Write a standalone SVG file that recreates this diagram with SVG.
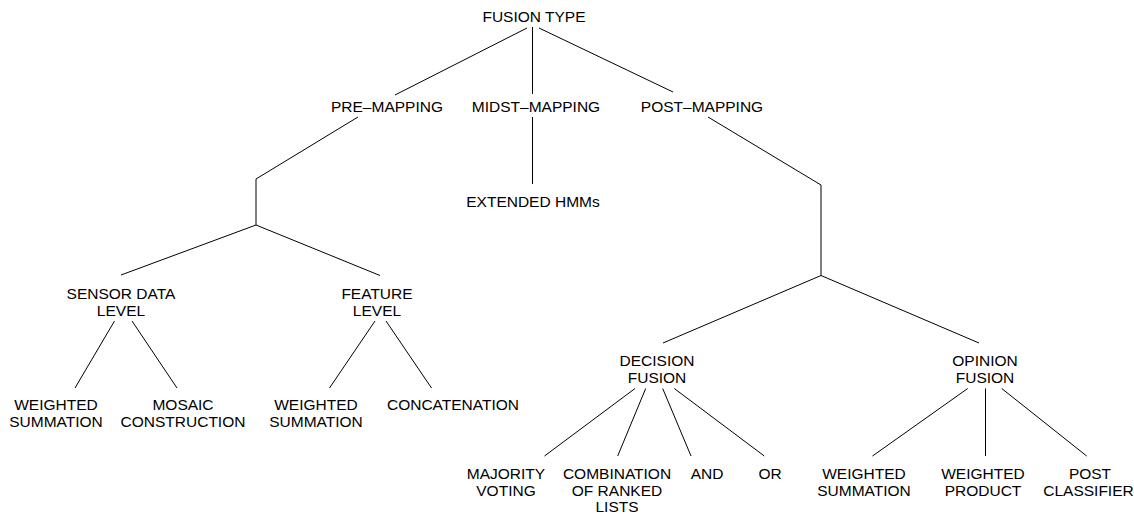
<svg xmlns="http://www.w3.org/2000/svg" width="1134" height="515" viewBox="0 0 1134 515">
<style>
text{font-family:"Liberation Sans",Arial,sans-serif;font-size:15.5px;fill:#000;text-anchor:middle}
.c{fill:none;stroke:#000;stroke-width:1}
</style>
<rect width="1134" height="515" fill="#fff"/>
<g id="connectors">
<path class="c" d="M527,28L395,95"/>
<path class="c" d="M532.5,27V94"/>
<path class="c" d="M539,28L673,92"/>
<path class="c" d="M358,117L256,179V225"/>
<path class="c" d="M256,225L121,275"/>
<path class="c" d="M256,225L380,275.5"/>
<path class="c" d="M532.5,117V184"/>
<path class="c" d="M708,117L821,185V275.5"/>
<path class="c" d="M821,275.5L663,343"/>
<path class="c" d="M821,275.5L979,343"/>
<path class="c" d="M114.5,321L75,388"/>
<path class="c" d="M132,321L177,388"/>
<path class="c" d="M375,321L329.5,388"/>
<path class="c" d="M386,321L431.5,388"/>
<path class="c" d="M635,388.5L544.5,456"/>
<path class="c" d="M645.7,388.5L617.7,456"/>
<path class="c" d="M662.7,388.5L691,456"/>
<path class="c" d="M674.3,388.5L764.3,456"/>
<path class="c" d="M967.7,388.5L872.5,456"/>
<path class="c" d="M985.5,388.5V456"/>
<path class="c" d="M1001.7,388.5L1086.7,456"/>
</g>
<g id="fusion-type"><text x="534" y="22">FUSION TYPE</text></g>
<g id="pre-mapping"><text x="387" y="112">PRE–MAPPING</text></g>
<g id="midst-mapping"><text x="536" y="112">MIDST–MAPPING</text></g>
<g id="post-mapping"><text x="702" y="112">POST–MAPPING</text></g>
<g id="extended-hmms"><text x="533" y="207">EXTENDED HMMs</text></g>
<g id="sensor-data-level"><text x="121" y="299">SENSOR DATA</text><text x="121" y="316">LEVEL</text></g>
<g id="feature-level"><text x="377" y="299">FEATURE</text><text x="377" y="316">LEVEL</text></g>
<g id="weighted-summation-1"><text x="56" y="410">WEIGHTED</text><text x="56" y="427">SUMMATION</text></g>
<g id="mosaic-construction"><text x="183" y="410">MOSAIC</text><text x="183" y="427">CONSTRUCTION</text></g>
<g id="weighted-summation-2"><text x="316" y="410">WEIGHTED</text><text x="316" y="427">SUMMATION</text></g>
<g id="concatenation"><text x="453" y="410">CONCATENATION</text></g>
<g id="decision-fusion"><text x="657" y="366">DECISION</text><text x="657" y="383">FUSION</text></g>
<g id="opinion-fusion"><text x="985" y="366">OPINION</text><text x="985" y="383">FUSION</text></g>
<g id="majority-voting"><text x="506" y="479">MAJORITY</text><text x="506" y="496">VOTING</text></g>
<g id="combination-ranked-lists"><text x="617" y="479">COMBINATION</text><text x="617" y="496">OF RANKED</text><text x="617" y="512">LISTS</text></g>
<g id="and"><text x="707" y="479">AND</text></g>
<g id="or"><text x="770" y="479">OR</text></g>
<g id="weighted-summation-3"><text x="864" y="479">WEIGHTED</text><text x="864" y="496">SUMMATION</text></g>
<g id="weighted-product"><text x="983" y="479">WEIGHTED</text><text x="983" y="496">PRODUCT</text></g>
<g id="post-classifier"><text x="1090" y="479">POST</text><text x="1088.5" y="496">CLASSIFIER</text></g>
</svg>
